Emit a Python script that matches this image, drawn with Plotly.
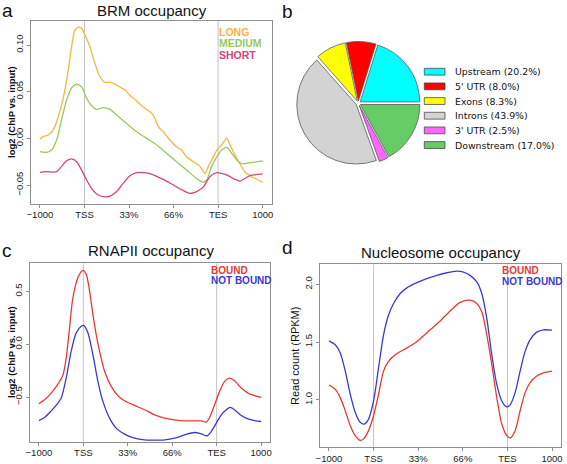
import plotly.graph_objects as go

W, H = 567, 464

# ---------------- data ----------------
tick_pos = [0, 1, 2, 3, 4, 5]
tick_text = ["\u22121000", "TSS", "33%", "66%", "TES", "1000"]

# panel a : BRM occupancy
a_long_x = [0.000, 0.075, 0.187, 0.299, 0.412, 0.524, 0.636, 0.711, 0.786, 0.861, 0.936, 1.010,
            1.123, 1.235, 1.347, 1.460, 1.572, 1.684, 1.796, 1.909, 2.021, 2.171, 2.283, 2.395,
            2.545, 2.657, 2.769, 2.919, 3.069, 3.181, 3.293, 3.443, 3.593, 3.705, 3.780, 3.892,
            3.967, 4.079, 4.192, 4.266, 4.379, 4.491, 4.603, 4.716, 4.828, 5.000]
a_long_y = [-0.001, 0.002, 0.0036, 0.009, 0.023, 0.043, 0.073, 0.098, 0.116, 0.119, 0.118, 0.111,
            0.098, 0.080, 0.066, 0.060, 0.060, 0.058, 0.055, 0.052, 0.046, 0.040, 0.035, 0.031,
            0.025, 0.0125, 0.007, -0.002, -0.009, -0.0125, -0.020, -0.025, -0.030, -0.0375, -0.030, -0.020,
            -0.013, -0.007, 0.000, -0.007, -0.018, -0.0275, -0.036, -0.040, -0.043, -0.047]
a_med_x = [0.000, 0.150, 0.262, 0.374, 0.487, 0.599, 0.711, 0.823, 0.936, 1.048, 1.160, 1.272,
           1.422, 1.572, 1.722, 1.946, 2.171, 2.395, 2.620, 2.844, 3.069, 3.293, 3.518, 3.668,
           3.743, 3.855, 3.967, 4.079, 4.192, 4.304, 4.416, 4.528, 4.716, 5.000]
a_med_y = [-0.0143, -0.015, -0.0125, -0.002, 0.020, 0.041, 0.054, 0.058, 0.055, 0.043, 0.035, 0.031,
           0.033, 0.031, 0.025, 0.016, 0.007, 0.000, -0.007, -0.016, -0.025, -0.034, -0.043, -0.047,
           -0.0446, -0.030, -0.020, -0.0125, -0.0096, -0.016, -0.023, -0.027, -0.026, -0.024]
a_short_x = [0.000, 0.150, 0.374, 0.487, 0.599, 0.711, 0.823, 0.936, 1.048, 1.160, 1.272, 1.422,
             1.572, 1.722, 1.871, 2.021, 2.171, 2.358, 2.545, 2.769, 2.994, 3.219, 3.368, 3.518,
             3.668, 3.817, 3.967, 4.079, 4.229, 4.379, 4.491, 4.603, 4.716, 5.000]
a_short_y = [-0.0364, -0.0357, -0.0357, -0.030, -0.024, -0.022, -0.025, -0.034, -0.0446, -0.0536, -0.0596, -0.0625,
             -0.0618, -0.057, -0.048, -0.040, -0.0368, -0.0368, -0.039, -0.044, -0.050, -0.056, -0.059, -0.057,
             -0.052, -0.041, -0.0368, -0.0375, -0.040, -0.044, -0.0457, -0.043, -0.040, -0.038]
a_series = ["LONG", "MEDIUM", "SHORT"]
a_colors = ["#F5B642", "#98C95B", "#D6447C"]
a_yticks = [-0.05, 0.00, 0.05, 0.10]
a_yticktext = ["\u22120.05", "0.00", "0.05", "0.10"]

# panel b : pie
b_labels = ["Upstream", "5' UTR", "Exons", "Introns", "3' UTR", "Downstream"]
b_values = [20.2, 8.0, 8.3, 43.9, 2.5, 17.0]
b_colors = ["#00FFFF", "#FF0000", "#FFFF00", "#D3D3D3", "#FF66FF", "#66CC66"]

# panel c : RNAPII occupancy
c_bound_x = [0.000, 0.128, 0.278, 0.428, 0.540, 0.615, 0.690, 0.765, 0.878, 0.990, 1.065, 1.140,
             1.215, 1.290, 1.365, 1.478, 1.628, 1.778, 1.928, 2.153, 2.378, 2.603, 2.828, 3.053,
             3.278, 3.503, 3.653, 3.766, 3.841, 3.953, 4.066, 4.179, 4.291, 4.404, 4.554, 4.704,
             4.854, 5.000]
c_bound_y = [-0.563, -0.525, -0.462, -0.377, -0.294, -0.130, 0.155, 0.440, 0.630, 0.699, 0.661, 0.503,
             0.282, 0.092, -0.066, -0.256, -0.399, -0.487, -0.535, -0.579, -0.620, -0.668, -0.699, -0.715,
             -0.725, -0.725, -0.725, -0.737, -0.693, -0.573, -0.446, -0.351, -0.320, -0.345, -0.415, -0.462,
             -0.487, -0.503]
c_nb_x = [0.000, 0.128, 0.278, 0.428, 0.503, 0.615, 0.728, 0.840, 0.953, 1.013, 1.103, 1.215,
          1.328, 1.440, 1.590, 1.740, 1.928, 2.153, 2.378, 2.603, 2.828, 3.053, 3.278, 3.503,
          3.653, 3.781, 3.878, 3.991, 4.104, 4.216, 4.306, 4.404, 4.554, 4.704, 4.854, 5.000]
c_nb_y = [-0.722, -0.693, -0.630, -0.557, -0.509, -0.320, -0.066, 0.108, 0.171, 0.177, 0.108, -0.098,
          -0.351, -0.541, -0.699, -0.794, -0.851, -0.889, -0.905, -0.908, -0.905, -0.889, -0.858, -0.835,
          -0.848, -0.867, -0.826, -0.747, -0.668, -0.620, -0.598, -0.620, -0.674, -0.706, -0.722, -0.731]
c_yticks = [-0.5, 0.0, 0.5]
c_yticktext = ["\u22120.5", "0.0", "0.5"]

# panel d : Nucleosome occupancy
d_nb_x = [0.000, 0.142, 0.254, 0.366, 0.478, 0.590, 0.701, 0.791, 0.888, 1.000, 1.112, 1.224,
          1.336, 1.448, 1.597, 1.746, 1.970, 2.194, 2.418, 2.642, 2.866, 3.015, 3.164, 3.313,
          3.425, 3.537, 3.649, 3.761, 3.873, 3.985, 4.060, 4.172, 4.284, 4.396, 4.507, 4.657,
          4.806, 5.000]
d_nb_y = [1.511, 1.477, 1.406, 1.249, 1.049, 0.891, 0.806, 0.791, 0.834, 0.991, 1.277, 1.563,
          1.734, 1.834, 1.920, 1.969, 2.014, 2.049, 2.077, 2.100, 2.114, 2.106, 2.077, 2.020,
          1.920, 1.706, 1.391, 1.134, 0.991, 0.940, 0.957, 1.063, 1.249, 1.420, 1.520, 1.586,
          1.606, 1.603]
d_bound_x = [0.000, 0.142, 0.254, 0.366, 0.478, 0.590, 0.701, 0.776, 0.888, 1.000, 1.112, 1.224,
             1.336, 1.485, 1.672, 1.896, 2.045, 2.269, 2.493, 2.716, 2.940, 3.164, 3.313, 3.425,
             3.537, 3.649, 3.761, 3.873, 3.985, 4.060, 4.172, 4.284, 4.396, 4.507, 4.657, 4.806,
             5.000]
d_bound_y = [1.129, 1.091, 1.020, 0.906, 0.777, 0.691, 0.649, 0.663, 0.734, 0.863, 1.049, 1.249,
             1.334, 1.391, 1.434, 1.483, 1.529, 1.606, 1.683, 1.769, 1.843, 1.863, 1.834, 1.763,
             1.563, 1.306, 1.020, 0.791, 0.691, 0.671, 0.734, 0.906, 1.063, 1.149, 1.206, 1.234,
             1.249]
d_yticks = [1.0, 1.5, 2.0]
d_yticktext = ["1.0", "1.5", "2.0"]

cd_series = ["BOUND", "NOT BOUND"]
cd_colors = ["#E63A35", "#3A3AD0"]

# ---------------- helpers ----------------
def px_x(p):
    return p / W


def px_y(p):
    return 1 - p / H


RFONT = "Liberation Sans, Arial, Helvetica, sans-serif"
PFONT = "DejaVu Sans, sans-serif"
BOX = "#8F8F8F"
VLINE = "#C4C4C4"

fig = go.Figure()


def add_line(x, y, color, xa, ya):
    fig.add_trace(go.Scatter(x=x, y=y, mode="lines", xaxis=xa, yaxis=ya,
                             line=dict(color=color, width=1.3, shape="spline", smoothing=0.8),
                             hoverinfo="skip", showlegend=False))


add_line(a_long_x, a_long_y, a_colors[0], "x", "y")
add_line(a_med_x, a_med_y, a_colors[1], "x", "y")
add_line(a_short_x, a_short_y, a_colors[2], "x", "y")
add_line(c_bound_x, c_bound_y, cd_colors[0], "x2", "y2")
add_line(c_nb_x, c_nb_y, cd_colors[1], "x2", "y2")
add_line(d_bound_x, d_bound_y, cd_colors[0], "x3", "y3")
add_line(d_nb_x, d_nb_y, cd_colors[1], "x3", "y3")

# pie
pull = 0.04
radius_px = 59.5
cx, cy = 358.3, 103.3
half = radius_px * (1 + pull)
rotation = 90 - 360 * b_values[0] / sum(b_values)
fig.add_trace(go.Pie(labels=b_labels, values=b_values, sort=False, direction="counterclockwise",
                     rotation=rotation, pull=[pull] * len(b_values), textinfo="none",
                     marker=dict(colors=b_colors, line=dict(color="#5A5A5A", width=0.8)),
                     domain=dict(x=[px_x(cx - half), px_x(cx + half)],
                                 y=[px_y(cy + half), px_y(cy - half)]),
                     showlegend=False, hoverinfo="label+percent"))


def axis_pair(xd, yd, xr, yr, yticks, yticktext):
    xa = dict(domain=[px_x(xd[0]), px_x(xd[1])], range=xr, tickmode="array",
              tickvals=tick_pos, ticktext=tick_text, ticks="outside", ticklen=3,
              tickcolor=BOX, showline=True, linecolor=BOX, linewidth=1, mirror=True,
              showgrid=False, zeroline=False, automargin=False, ticklabelstandoff=-1,
              tickfont=dict(family=RFONT, size=9.5, color="#222"))
    ya = dict(domain=[px_y(yd[1]), px_y(yd[0])], range=yr, tickmode="array",
              tickvals=yticks, ticktext=yticktext, ticks="outside", ticklen=3, tickangle=-90,
              tickcolor=BOX, showline=True, linecolor=BOX, linewidth=1, mirror=True,
              showgrid=False, zeroline=False, automargin=False,
              tickfont=dict(family=RFONT, size=9.5, color="#222"))
    return xa, ya


xa1, ya1 = axis_pair((31, 271.6), (21, 204), [-0.2, 5.2], [-0.0703, 0.1257], a_yticks, a_yticktext)
xa2, ya2 = axis_pair((30, 270), (263.3, 442), [-0.2, 5.2], [-0.925, 0.766], c_yticks, c_yticktext)
xa3, ya3 = axis_pair((320, 561), (264.3, 447.3), [-0.2, 5.2], [0.590, 2.173], d_yticks, d_yticktext)
ya2["anchor"] = "x2"
xa2["anchor"] = "y2"
ya3["anchor"] = "x3"
xa3["anchor"] = "y3"

shapes = []
for xr_name, yr_name in [("x", "y"), ("x2", "y2"), ("x3", "y3")]:
    for pos in (tick_pos[1], tick_pos[4]):
        shapes.append(dict(type="line", xref=xr_name, yref=yr_name + " domain", x0=pos, x1=pos,
                           y0=0, y1=1, line=dict(color=VLINE, width=1), layer="below"))

annotations = []


def text(x, y, s, size, color="#111", bold=False, family=RFONT, xanchor="center", angle=0):
    annotations.append(dict(x=px_x(x), y=px_y(y), xref="paper", yref="paper", text=(f"<b>{s}</b>" if bold else s),
                            showarrow=False, xanchor=xanchor, yanchor="middle", textangle=angle,
                            font=dict(family=family, size=size, color=color)))


# panel letters
text(7, 11, "a", 19)
text(287, 12, "b", 19)
text(7, 250, "c", 19)
text(287, 247, "d", 19)

# titles
text(152, 11, "BRM occupancy", 15)
text(151, 250, "RNAPII occupancy", 15)
text(441, 253, "Nucleosome occupancy", 15)

# y axis titles
text(11, 112, "log2 (ChIP vs. input)", 9.5, bold=True, angle=-90)
text(11, 352, "log2 (ChIP vs. input)", 9.5, bold=True, angle=-90)
text(295, 356, "Read count (RPKM)", 11, angle=-90)

# line legends
for i, (s, c) in enumerate(zip(a_series, a_colors)):
    text(216.7, 31.5 + i * 11.7, s, 10.5, color=c, bold=True, xanchor="left")
for i, (s, c) in enumerate(zip(cd_series, cd_colors)):
    text(209.3, 270.7 + i * 10.2, s, 10, color=c, bold=True, xanchor="left")
    text(500, 270.7 + i * 11, s, 10, color=c, bold=True, xanchor="left")

# pie legend
for i, (lab, v, c) in enumerate(zip(b_labels, b_values, b_colors)):
    yc = 71.7 + i * 14.67
    shapes.append(dict(type="rect", xref="paper", yref="paper",
                       x0=px_x(424.3), x1=px_x(445), y0=px_y(yc + 3.4), y1=px_y(yc - 3.4),
                       fillcolor=c, line=dict(color="#4A4A4A", width=0.8)))
    text(452.7, yc, f"{lab} ({v:.1f}%)", 9.4, color="#111", family=PFONT, xanchor="left")

fig.update_layout(width=W, height=H, margin=dict(l=0, r=0, t=0, b=0, autoexpand=False),
                  paper_bgcolor="white", plot_bgcolor="white", showlegend=False,
                  xaxis=xa1, yaxis=ya1, xaxis2=xa2, yaxis2=ya2, xaxis3=xa3, yaxis3=ya3,
                  shapes=shapes, annotations=annotations)

fig.write_html("out.html", config={"displayModeBar": False},
               post_script="document.body.style.margin='0';document.body.style.padding='0';")
